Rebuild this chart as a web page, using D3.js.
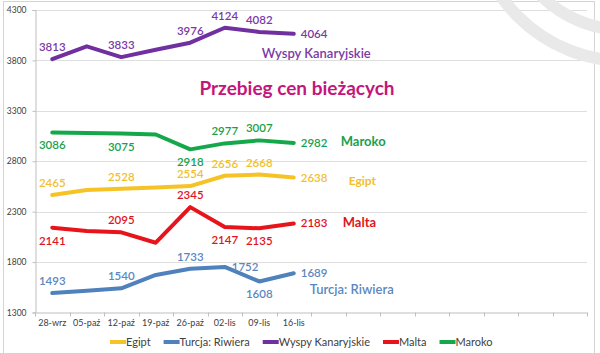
<!DOCTYPE html>
<html>
<head>
<meta charset="utf-8">
<script src="https://cdn.jsdelivr.net/npm/d3@7"></script>
<style>
  body { margin: 0; background: #fff; }
  svg { display: block; font-family: Lato, "Open Sans", sans-serif; }
</style>
</head>
<body>
<div id="chart"></div>
<script>
// dates on the axis (the axis keeps 8 more empty slots on the right)
const dates = ["28-wrz", "05-paź", "12-paź", "19-paź", "26-paź", "02-lis", "09-lis", "16-lis"];
const slots = 16;

const egipt = [2465, 2515, 2528, 2540, 2554, 2656, 2668, 2638];
const turcja = [1493, 1515, 1540, 1672, 1733, 1752, 1608, 1689];
const wyspy = [3813, 3940, 3833, 3905, 3976, 4124, 4082, 4064];
const malta = [2141, 2108, 2095, 1992, 2345, 2147, 2135, 2183];
const maroko = [3086, 3080, 3075, 3065, 2918, 2977, 3007, 2982];

const yTicks = [1300, 1800, 2300, 2800, 3300, 3800, 4300];

// label placement: a = above, b = below, r = right, "" = none
const series = [
  {name: "Egipt", values: egipt, color: "#f6c326", text: "#f2c02e", pos: ["a","","a","","a","a","a","r"], tag: [55, 3], bold: true, size: 12},
  {name: "Turcja: Riwiera", values: turcja, color: "#4f81bd", text: "#5b87c1", pos: ["a","","a","","a","r","b","r"], tag: [16, 16], bold: false, size: 13},
  {name: "Wyspy Kanaryjskie", values: wyspy, color: "#7030a0", text: "#7a3aa6", pos: ["a","","a","","a","a","a","r"], tag: [-32, 20], bold: false, size: 13},
  {name: "Malta", values: malta, color: "#e8141c", text: "#e0141c", pos: ["b","","a","","a","b","b","r"], tag: [49, -1], bold: true, size: 13},
  {name: "Maroko", values: maroko, color: "#15a84b", text: "#1b9f4c", pos: ["b","","b","","b","a","a","r"], tag: [47, -1], bold: true, size: 13}
];

const W = 600, H = 353;
const svg = d3.select("#chart").append("svg")
  .attr("width", W).attr("height", H);

// frame
svg.append("rect")
  .attr("x", 3.5).attr("y", 1.5).attr("width", 591).attr("height", 360)
  .attr("fill", "none").attr("stroke", "#d4d4d4");

const x = d3.scaleBand()
  .domain(d3.range(slots))
  .range([35, 587]);

const y = d3.scaleLinear()
  .domain([1300, 4300])
  .range([312.5, 10]);

const cx = i => x(i) + x.bandwidth() / 2;

// gridlines
svg.append("g")
  .selectAll("line")
  .data(yTicks.slice(1))
  .enter().append("line")
    .attr("x1", 35).attr("x2", 587)
    .attr("y1", d => Math.round(y(d)) + 0.5).attr("y2", d => Math.round(y(d)) + 0.5)
    .attr("stroke", "#dedede");

// faint arcs in the corner
const arcs = [120, 151];
svg.append("g")
  .attr("transform", "translate(625,-90)")
  .selectAll("circle")
  .data(arcs)
  .enter().append("circle")
    .attr("r", d => d)
    .attr("fill", "none")
    .attr("stroke", "#e9e9e9")
    .attr("stroke-width", 12);

// y axis
const yAxis = svg.append("g")
  .attr("transform", "translate(35.5,0)")
  .call(d3.axisLeft(y).tickValues(yTicks).tickFormat(d3.format("d")).tickSize(3).tickPadding(6));
yAxis.select(".domain").attr("stroke", "#bfbfbf");
yAxis.selectAll(".tick line").attr("stroke", "#bfbfbf");
yAxis.selectAll("text").attr("fill", "#404040").style("font-size", "8.5px").style("font-family", "Lato");

// x axis
const xAxis = svg.append("g")
  .attr("transform", "translate(0,312.5)")
  .call(d3.axisBottom(x).tickSize(0).tickPadding(7)
    .tickFormat(i => dates[i] || ""));
xAxis.select(".domain").attr("stroke", "#bfbfbf");
xAxis.selectAll("text").attr("fill", "#404040").style("font-size", "9px").style("font-family", "Lato");
xAxis.selectAll(".tickb")
  .data(d3.range(slots + 1))
  .enter().append("line")
    .attr("x1", i => Math.round(i < slots ? x(i) : x.range()[1]) + 0.5)
    .attr("x2", i => Math.round(i < slots ? x(i) : x.range()[1]) + 0.5)
    .attr("y1", 0).attr("y2", 4)
    .attr("stroke", "#bfbfbf");

// title
svg.append("text")
  .attr("x", 297).attr("y", 95)
  .attr("text-anchor", "middle")
  .attr("fill", "#c4157a")
  .style("font-size", "19px")
  .style("font-weight", 700)
  .style("font-family", "Lato")
  .text("Przebieg cen bieżących");

const line = d3.line()
  .x((d, i) => cx(i))
  .y(d => y(d))
  .curve(d3.curveLinear);

series.forEach(s => {
  svg.append("path")
    .datum(s.values)
    .attr("d", line)
    .attr("fill", "none")
    .attr("stroke", s.color)
    .attr("stroke-width", 4)
    .attr("stroke-linecap", "round")
    .attr("stroke-linejoin", "round");

  svg.append("g")
    .selectAll("text")
    .data(s.values.map((v, i) => ({v, i, p: s.pos[i]})).filter(d => d.p))
    .enter().append("text")
      .attr("x", d => d.p === "r" ? cx(d.i) + 7 : cx(d.i))
      .attr("y", d => y(d.v) + (d.p === "a" ? -12 : d.p === "b" ? 13 : 0))
      .attr("dy", "0.35em")
      .attr("text-anchor", d => d.p === "r" ? "start" : "middle")
      .attr("fill", s.text)
      .style("font-size", "11.5px")
      .style("font-weight", 600)
      .text(d => d.v);

  // series name beside the end of the line
  const last = s.values.length - 1;
  svg.append("text")
    .attr("x", cx(last) + s.tag[0])
    .attr("y", y(s.values[last]) + s.tag[1])
    .attr("dy", "0.35em")
    .attr("fill", s.text)
    .style("font-size", s.size + "px")
    .style("font-weight", s.bold ? 700 : 600)
    .text(s.name);
});

// legend
const legend = svg.append("g").attr("transform", "translate(110,342)");
let lx = 0;
series.forEach(s => {
  const g = legend.append("g").attr("transform", `translate(${lx},0)`);
  g.append("line")
    .attr("x1", 0).attr("x2", 16)
    .attr("stroke", s.color).attr("stroke-width", 4);
  const t = g.append("text")
    .attr("x", 16).attr("dy", "0.35em")
    .attr("fill", "#404040")
    .style("font-size", "11px")
    .text(s.name);
  lx += 16 + t.node().getComputedTextLength() + 13;
});
</script>
</body>
</html>
